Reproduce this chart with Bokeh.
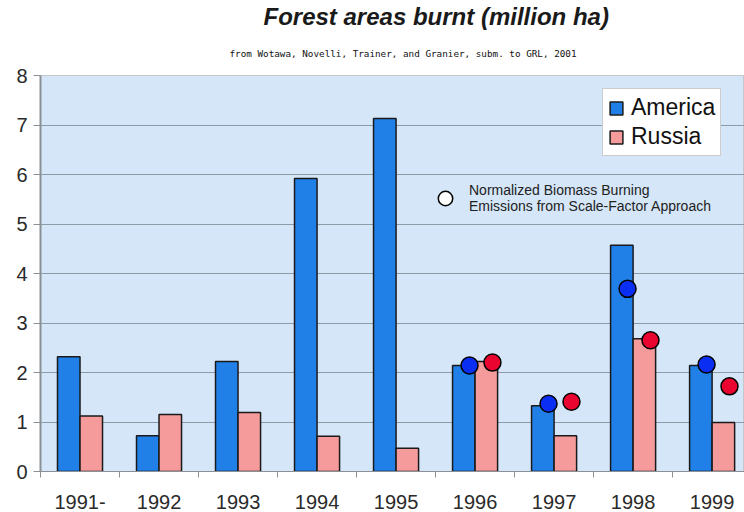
from bokeh.plotting import figure
from bokeh.models import (Range1d, FixedTicker, Legend, LegendItem, Title)
from bokeh.embed import file_html
from bokeh.resources import INLINE
import numpy as np

# ---- data ----
years = ["1991-", "1992", "1993", "1994", "1995", "1996", "1997", "1998", "1999"]
america = [2.32, 0.72, 2.22, 5.92, 7.13, 2.14, 1.33, 4.57, 2.14]
russia = [1.12, 1.15, 1.19, 0.71, 0.47, 2.22, 0.72, 2.68, 0.99]
norm_years = ["1996", "1997", "1998", "1999"]
norm_america = [2.14, 1.37, 3.69, 2.16]
norm_russia = [2.20, 1.41, 2.65, 1.72]
y_ticks = [0, 1, 2, 3, 4, 5, 6, 7, 8]

title_text = "Forest areas burnt (million ha)"
subtitle_text = "from Wotawa, Novelli, Trainer, and Granier, subm. to GRL, 2001"
note_text = "Normalized Biomass Burning\nEmissions from Scale-Factor Approach"

# ---- positions ----
centers = np.arange(len(years)) + 0.5
idx = {y: i for i, y in enumerate(years)}
norm_centers = np.array([idx[y] + 0.5 for y in norm_years])
bw = 0.285

p = figure(width=744, height=512, output_backend="svg", toolbar_location=None,
           x_range=Range1d(0, 8.91), y_range=Range1d(0, 8),
           min_border_left=40, min_border_right=0, min_border_top=74,
           min_border_bottom=41, background_fill_color="#d5e6f8",
           border_fill_color="white", outline_line_color="#c4c8cc")

am_r = p.vbar(x=centers - bw / 2, top=america, width=bw, bottom=0,
              fill_color="#2080e8", line_color="#1a1a1a", line_width=1.5)
ru_r = p.vbar(x=centers + bw / 2, top=russia, width=bw, bottom=0,
              fill_color="#f59b9b", line_color="#1a1a1a", line_width=1.5)

p.scatter(x=norm_centers - 0.07, y=norm_america, marker="circle", size=17,
          fill_color="#0b2ff2", line_color="black", line_width=1.5)
p.scatter(x=norm_centers + 0.22, y=norm_russia, marker="circle", size=17,
          fill_color="#ea0530", line_color="black", line_width=1.5)

# grid
p.xgrid.visible = False
p.ygrid.ticker = FixedTicker(ticks=y_ticks)
p.ygrid.grid_line_color = "#8d9ba7"
p.ygrid.grid_line_width = 1

# y axis
p.yaxis.ticker = FixedTicker(ticks=y_ticks)
p.yaxis.major_label_text_font = "Liberation Sans"
p.yaxis.major_label_text_font_size = "20px"
p.yaxis.major_label_text_color = "#2a2a2a"
p.yaxis.major_tick_out = 7
p.yaxis.major_tick_in = 0
p.yaxis.minor_tick_line_color = None
p.yaxis.major_tick_line_color = "#8a9096"
p.yaxis.axis_line_color = "#8a9096"
p.yaxis.axis_line_width = 2
p.yaxis.major_label_standoff = 6

# x axis
p.xaxis.ticker = FixedTicker(ticks=list(centers), minor_ticks=list(range(0, 10)))
p.xaxis.major_label_overrides = {float(c): y for c, y in zip(centers, years)}
p.xaxis.major_label_text_font = "Liberation Sans"
p.xaxis.major_label_text_font_size = "20px"
p.xaxis.major_label_text_color = "#2a2a2a"
p.xaxis.major_tick_out = 0
p.xaxis.major_tick_in = 0
p.xaxis.minor_tick_out = 6
p.xaxis.minor_tick_in = 0
p.xaxis.minor_tick_line_color = "#8a9096"
p.xaxis.axis_line_color = "#8a9096"
p.xaxis.major_label_standoff = 17

# legend (bars)
leg = Legend(items=[LegendItem(label="America", renderers=[am_r]),
                    LegendItem(label="Russia", renderers=[ru_r])],
             location=(562, 315), glyph_width=16, glyph_height=16,
             label_text_font="Liberation Sans", label_text_font_size="23px",
             label_text_color="#111111", label_standoff=7, spacing=2,
             padding=5, margin=0, border_line_color="#9a9a9a",
             background_fill_color="white", background_fill_alpha=1.0,
             label_height=26)
p.add_layout(leg)

# legend (normalized emissions)
dummy = p.scatter(x=[np.nan], y=[np.nan], marker="circle", size=15, fill_color="white",
                  line_color="black", line_width=1.5)
leg2 = Legend(items=[LegendItem(label=note_text, renderers=[dummy])],
              location=(387, 255), glyph_width=36, glyph_height=36,
              label_text_font="Liberation Sans", label_text_font_size="14px",
              label_text_color="#222222", label_standoff=6, padding=0, margin=0,
              border_line_color=None, background_fill_alpha=0,
              label_text_line_height=1.15)
p.add_layout(leg2)

# titles (first added sits closest to the frame)
p.add_layout(Title(text=subtitle_text, align="left", offset=189, standoff=33,
                   text_font="DejaVu Sans Mono", text_font_size="9.3px",
                   text_font_style="normal", text_color="#111111"), "above")
p.add_layout(Title(text=title_text, align="left", offset=223, standoff=0,
                   text_font="'Liberation Sans Narrow', 'Liberation Sans'",
                   text_font_style="bold italic", text_font_size="24px",
                   text_color="#1a1a1a"), "above")

open("out.html", "w").write(file_html(p, INLINE))
